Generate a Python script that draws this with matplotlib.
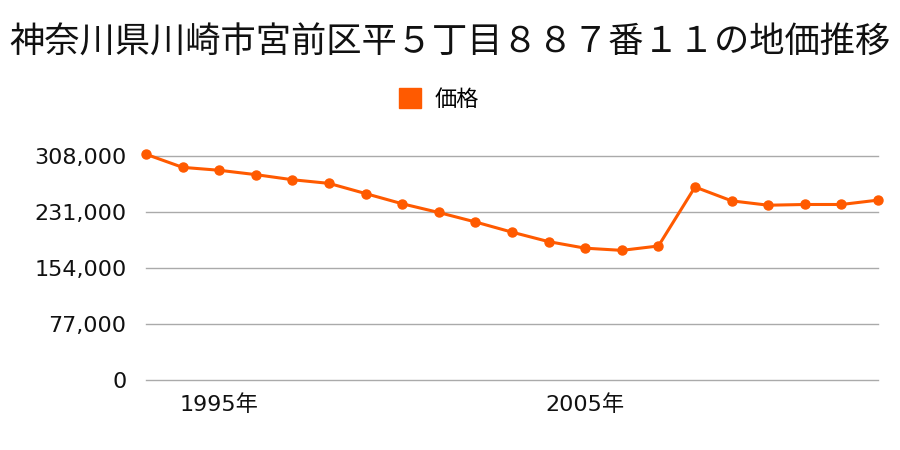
import matplotlib
matplotlib.use("Agg")
import matplotlib.pyplot as plt
from matplotlib.patches import Patch
from matplotlib.ticker import FuncFormatter

plt.rcParams['font.family'] = ['Noto Sans CJK JP', 'DejaVu Sans']

# 価格データ (1993-2013)
years = list(range(1993, 2014))
prices = [310000, 292000, 288000, 282000, 275000, 270000, 256000, 242000,
          230000, 217000, 203000, 190000, 181000, 178000, 184000, 265000,
          246000, 240000, 241000, 241000, 247000]
yticks = [0, 77000, 154000, 231000, 308000]
xticks = [1995, 2005]
xtick_labels = ["1995年", "2005年"]
title = "神奈川県川崎市宮前区平５丁目８８７番１１の地価推移"
series_name = "価格"
color = "#ff5a00"

fig = plt.figure(figsize=(9, 4.5), dpi=100)
ax = fig.add_axes([0.1622, 0.1556, 0.8134, 0.4984])

ax.plot(years, prices, color=color, lw=2.2, marker="o", markersize=6.5,
        clip_on=False, zorder=3)

ax.set_xlim(1993, 2013)
ax.set_ylim(0, 308000)
ax.set_yticks(yticks)
ax.yaxis.set_major_formatter(FuncFormatter(lambda v, p: f"{int(v):,}"))
ax.set_xticks(xticks)
ax.set_xticklabels(xtick_labels)
ax.grid(axis="y", color="#aaaaaa", lw=1)
for gl in ax.get_ygridlines():
    gl.set_clip_on(False)
ax.set_axisbelow(True)
for s in ax.spines.values():
    s.set_visible(False)
ax.tick_params(axis="both", length=0, labelsize=16, colors="#111111")
ax.tick_params(axis="y", pad=14)
ax.tick_params(axis="x", pad=10)
for lab in ax.get_xticklabels() + ax.get_yticklabels():
    lab.set_family(['DejaVu Sans', 'Noto Sans CJK JP'])

fig.text(0.5, 0.905, title, ha="center", va="center", fontsize=25.4, color="#111111")
fig.legend(handles=[Patch(color=color, label=series_name)], loc="center",
           bbox_to_anchor=(0.488, 0.78), frameon=False, fontsize=16,
           handlelength=1.0, handleheight=1.0, handletextpad=0.6)

fig.savefig("out.png", dpi=100)
